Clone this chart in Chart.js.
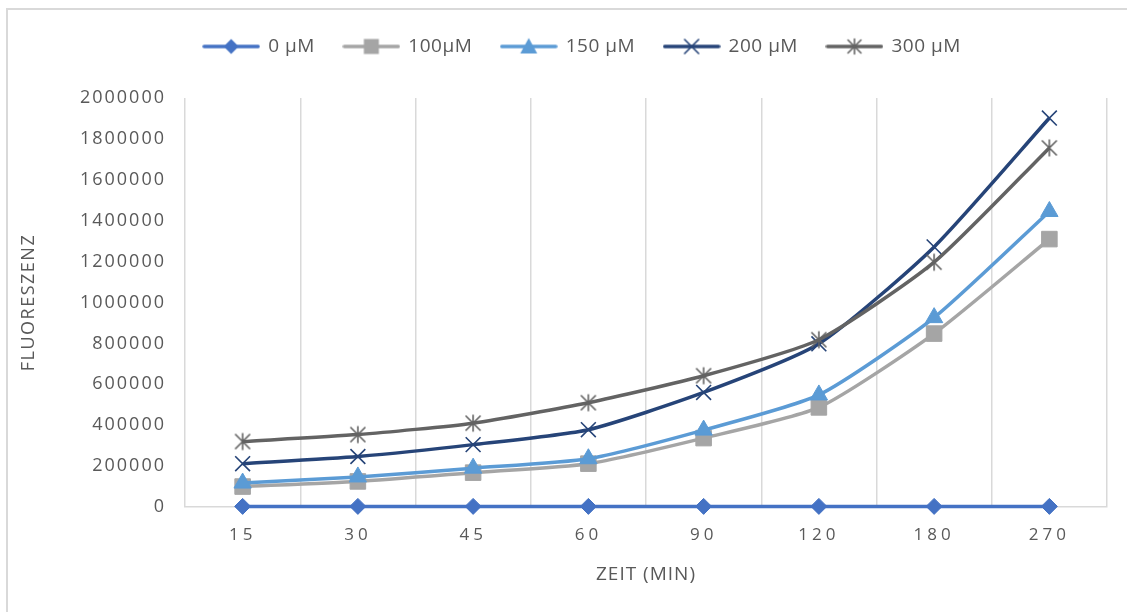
<!DOCTYPE html>
<html>
<head>
<meta charset="utf-8">
<script src="https://cdn.jsdelivr.net/npm/chart.js@4/dist/chart.umd.min.js"></script>
<style>
  html, body { margin: 0; padding: 0; background: #ffffff; }
  canvas { display: block; }
</style>
</head>
<body>
<canvas id="c" width="1127" height="612"></canvas>
<script>
// ---- data ----
const categories = ['15', '30', '45', '60', '90', '120', '180', '270'];
const seriesNames = ['0 µM', '100µM', '150 µM', '200 µM', '300 µM'];
const s0   = [3000, 3000, 3000, 3000, 3000, 3000, 3000, 3000];
const s100 = [100000, 125000, 168000, 212000, 337000, 487000, 848000, 1310000];
const s150 = [117000, 147000, 190000, 236000, 376000, 548000, 926000, 1445000];
const s200 = [212000, 247000, 305000, 378000, 560000, 798000, 1272000, 1902000];
const s300 = [320000, 354000, 410000, 510000, 642000, 818000, 1197000, 1756000];
const yTickValues = [0, 200000, 400000, 600000, 800000, 1000000, 1200000, 1400000, 1600000, 1800000, 2000000];
const xTitle = 'ZEIT (MIN)';
const yTitle = 'FLUORESZENZ';

// ---- styles ----
const colors = ['#4472C4', '#A5A5A5', '#5B9BD5', '#264478', '#636363'];
const textColor = '#595959';
const gridColor = '#d9d9d9';
const FONT = "'Open Sans', 'Liberation Sans', sans-serif";

function drawStar(ctx, x, y, color, r) {
  ctx.strokeStyle = color;
  ctx.lineWidth = 1.6;
  ctx.beginPath();
  ctx.moveTo(x - r, y - r); ctx.lineTo(x + r, y + r);
  ctx.moveTo(x + r, y - r); ctx.lineTo(x - r, y + r);
  ctx.moveTo(x, y - r - 1); ctx.lineTo(x, y + r + 1);
  ctx.stroke();
}
function starCanvas(color) {
  const c = document.createElement('canvas');
  c.width = 20; c.height = 20;
  drawStar(c.getContext('2d'), 10, 10, color, 7.5);
  return c;
}
function legendCanvas(i) {
  const c = document.createElement('canvas');
  c.width = 58; c.height = 22;
  const ctx = c.getContext('2d');
  const col = colors[i];
  const x = 29, y = 11;
  ctx.strokeStyle = col; ctx.lineWidth = 3.5; ctx.lineCap = 'round';
  ctx.beginPath(); ctx.moveTo(2, y); ctx.lineTo(56, y); ctx.stroke();
  ctx.fillStyle = col; ctx.strokeStyle = col;
  ctx.beginPath();
  if (i === 0) { ctx.moveTo(x, y - 7.5); ctx.lineTo(x + 7.5, y); ctx.lineTo(x, y + 7.5); ctx.lineTo(x - 7.5, y); ctx.closePath(); ctx.fill(); }
  else if (i === 1) { ctx.fillRect(x - 7.5, y - 7.5, 15, 15); }
  else if (i === 2) { ctx.moveTo(x, y - 8.5); ctx.lineTo(x + 8.5, y + 7); ctx.lineTo(x - 8.5, y + 7); ctx.closePath(); ctx.fill(); }
  else if (i === 3) { ctx.lineWidth = 1.6; const r = 7; ctx.moveTo(x - r, y - r); ctx.lineTo(x + r, y + r); ctx.moveTo(x + r, y - r); ctx.lineTo(x - r, y + r); ctx.stroke(); }
  else { drawStar(ctx, x, y, col, 6.5); }
  return c;
}

const seriesData = [s0, s100, s150, s200, s300];
const pointStyles = ['rectRot', 'rect', 'triangle', 'crossRot', starCanvas(colors[4])];
const pointRadii = [8, 11, 10, 10.5, 9];

const datasets = seriesData.map((d, i) => ({
  label: seriesNames[i],
  data: d,
  borderColor: colors[i],
  backgroundColor: colors[i],
  borderWidth: 3.5,
  tension: 0.2,
  clip: false,
  pointStyle: pointStyles[i],
  pointRadius: pointRadii[i],
  pointHoverRadius: pointRadii[i],
  pointBorderWidth: i === 3 ? 1.6 : 1,
  pointBackgroundColor: colors[i],
  pointBorderColor: colors[i],
  order: 5 - i
}));

function withSpacing(chart, fn, spacing) {
  const ctx = chart.ctx;
  ctx.save(); ctx.letterSpacing = spacing; fn(); ctx.restore();
}

const framePlugin = {
  id: 'frame',
  beforeDraw(chart) {
    const ctx = chart.ctx;
    ctx.save();
    ctx.fillStyle = '#ffffff';
    ctx.fillRect(0, 0, chart.width, chart.height);
    ctx.strokeStyle = gridColor;
    ctx.lineWidth = 2;
    ctx.beginPath();
    ctx.moveTo(7, 612); ctx.lineTo(7, 9); ctx.lineTo(1127, 9);
    ctx.stroke();
    ctx.restore();
  },
  afterInit(chart) {
    const lg = chart.legend;
    if (lg) {
      const origFit = lg.fit.bind(lg);
      lg.fit = function () { origFit(); this.height = 98; };
      const origDraw = lg.draw.bind(lg);
      lg.draw = function () {
        const ctx = chart.ctx;
        ctx.save(); ctx.translate(18, 8); ctx.letterSpacing = '0.5px'; origDraw(); ctx.restore();
      };
    }
  },
  afterLayout(chart) {
    const xs = chart.scales.x;
    if (xs && !xs._wrapped) {
      const oL = xs.drawLabels.bind(xs), oT = xs.drawTitle.bind(xs);
      xs.drawLabels = a => withSpacing(chart, () => oL(a), '4px');
      xs.drawTitle = () => withSpacing(chart, oT, '1px');
      xs._wrapped = true;
    }
    const ys = chart.scales.y;
    if (ys && !ys._wrapped) {
      const oL = ys.drawLabels.bind(ys), oT = ys.drawTitle.bind(ys);
      ys.drawLabels = a => withSpacing(chart, () => oL(a), '2px');
      ys.drawTitle = () => withSpacing(chart, oT, '1.5px');
      ys._wrapped = true;
    }
  }
};

new Chart(document.getElementById('c'), {
  type: 'line',
  data: { labels: categories, datasets },
  plugins: [framePlugin],
  options: {
    responsive: false,
    animation: false,
    devicePixelRatio: 1,
    layout: { padding: { left: 8, right: 20, top: 0, bottom: 0 } },
    plugins: {
      tooltip: { enabled: false },
      legend: {
        position: 'top',
        labels: {
          usePointStyle: true,
          pointStyleWidth: 55,
          padding: 29,
          color: textColor,
          font: { family: FONT, size: 19 },
          generateLabels: () => seriesNames.map((n, i) => ({
            text: n,
            fillStyle: colors[i],
            strokeStyle: colors[i],
            lineWidth: 0,
            pointStyle: legendCanvas(i),
            hidden: false,
            datasetIndex: i,
            fontColor: textColor
          }))
        }
      }
    },
    scales: {
      x: {
        offset: true,
        grid: { display: true, offset: true, color: gridColor, lineWidth: 1.5, drawTicks: false },
        border: { display: true, color: gridColor, width: 1.5 },
        ticks: { color: textColor, font: { family: FONT, size: 17 }, padding: 18, maxRotation: 0 },
        title: { display: true, text: xTitle, color: textColor, font: { family: FONT, size: 19 }, padding: { top: 0, bottom: 26 } },
        afterFit: s => { s.height = 105; }
      },
      y: {
        min: 0,
        max: yTickValues[yTickValues.length - 1],
        afterBuildTicks: s => { s.ticks = yTickValues.map(v => ({ value: v })); },
        grid: { display: false, drawTicks: false },
        border: { display: false },
        ticks: { color: textColor, font: { family: FONT, size: 18 }, padding: 19, callback: v => String(v) },
        title: { display: true, text: yTitle, color: textColor, font: { family: FONT, size: 18 }, padding: { top: 10, bottom: 0 } },
        afterFit: s => { s.width = 177; }
      }
    }
  }
});
</script>
</body>
</html>
